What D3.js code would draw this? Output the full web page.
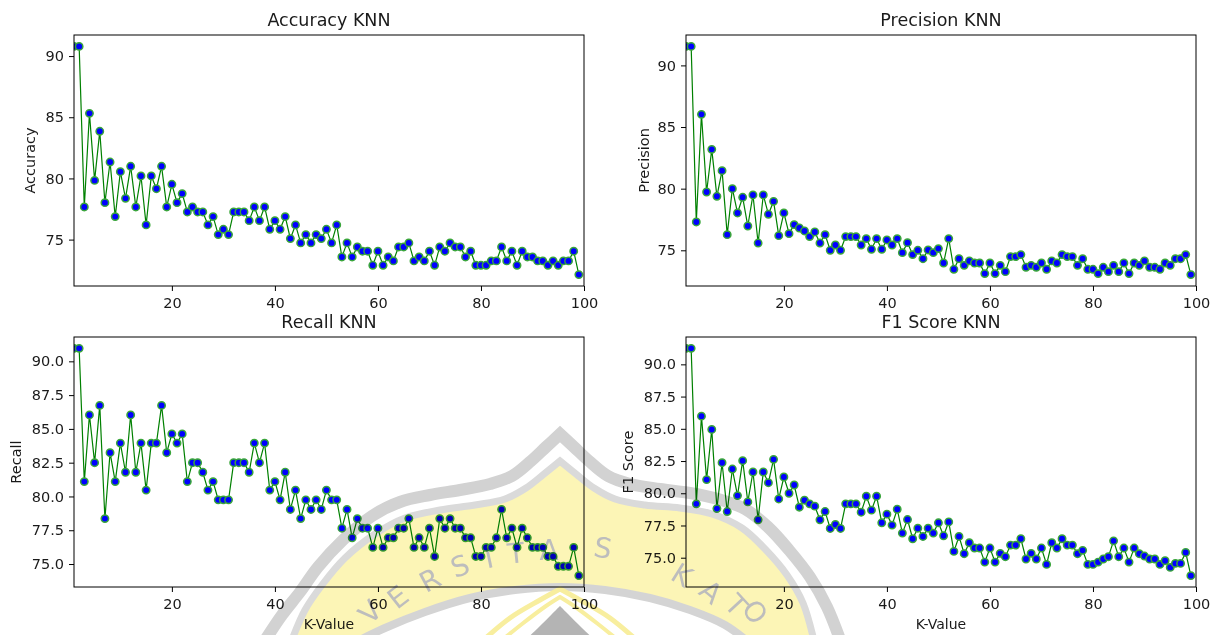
<!DOCTYPE html>
<html>
<head>
<meta charset="utf-8">
<script src="https://cdn.jsdelivr.net/npm/d3@7/dist/d3.min.js"></script>
<style>
  body { margin: 0; background: #fff; }
  svg text { font-family: "DejaVu Sans", sans-serif; }
</style>
</head>
<body>
<svg id="chart" width="1222" height="635"></svg>
<script>
// k values 1..99 on the x axis
const kValues = d3.range(1, 100);

const accuracy = [
  90.79, 90.79, 77.67, 85.32, 79.84, 83.85, 78.02, 81.34, 76.88, 80.55,
  78.37, 80.99, 77.67, 80.20, 76.20, 80.20, 79.16, 80.99, 77.67, 79.52,
  78.02, 78.76, 77.26, 77.67, 77.26, 77.26, 76.20, 76.88, 75.41, 75.84,
  75.41, 77.26, 77.26, 77.26, 76.55, 77.67, 76.55, 77.67, 75.84, 76.55,
  75.84, 76.88, 75.08, 76.20, 74.73, 75.41, 74.73, 75.41, 75.08, 75.84,
  74.73, 76.20, 73.58, 74.73, 73.58, 74.40, 74.05, 74.05, 72.90, 74.05,
  72.90, 73.58, 73.26, 74.40, 74.40, 74.73, 73.26, 73.58, 73.26, 74.05,
  72.90, 74.40, 74.05, 74.73, 74.40, 74.40, 73.58, 74.05, 72.90, 72.90,
  72.90, 73.26, 73.26, 74.40, 73.26, 74.05, 72.90, 74.05, 73.58, 73.58,
  73.26, 73.26, 72.90, 73.26, 72.90, 73.26, 73.26, 74.05, 72.14
];

const precision = [
  91.54, 91.54, 77.30, 86.03, 79.73, 83.19, 79.38, 81.46, 76.27, 80.00,
  78.03, 79.30, 76.97, 79.49, 75.59, 79.49, 77.92, 78.97, 76.19, 78.03,
  76.35, 77.08, 76.81, 76.57, 76.11, 76.49, 75.59, 76.27, 75.00, 75.43,
  75.00, 76.11, 76.11, 76.11, 75.43, 75.95, 75.08, 75.95, 75.08, 75.84,
  75.43, 75.95, 74.81, 75.62, 74.65, 75.00, 74.32, 75.03, 74.81, 75.14,
  73.97, 75.95, 73.46, 74.32, 73.78, 74.14, 73.97, 73.97, 73.11, 73.97,
  73.11, 73.78, 73.27, 74.49, 74.49, 74.65, 73.62, 73.78, 73.62, 73.97,
  73.46, 74.14, 73.97, 74.65, 74.49, 74.49, 73.78, 74.32, 73.46, 73.46,
  73.11, 73.62, 73.27, 73.78, 73.27, 73.97, 73.11, 73.97, 73.78, 74.14,
  73.62, 73.62, 73.46, 73.97, 73.78, 74.32, 74.32, 74.65, 73.03
];

const recall = [
  90.96, 90.96, 81.10, 86.03, 82.50, 86.74, 78.36, 83.24, 81.10, 83.95,
  81.79, 86.03, 81.79, 83.95, 80.47, 83.95, 83.95, 86.74, 83.24, 84.63,
  83.95, 84.63, 81.10, 82.50, 82.50, 81.79, 80.47, 81.10, 79.75, 79.75,
  79.75, 82.50, 82.50, 82.50, 81.79, 83.95, 82.50, 83.95, 80.47, 81.10,
  79.75, 81.79, 79.04, 80.47, 78.36, 79.75, 79.04, 79.75, 79.04, 80.47,
  79.75, 79.75, 77.65, 79.04, 76.94, 78.36, 77.65, 77.65, 76.23, 77.65,
  76.23, 76.94, 76.94, 77.65, 77.65, 78.36, 76.23, 76.94, 76.23, 77.65,
  75.56, 78.36, 77.65, 78.36, 77.65, 77.65, 76.94, 76.94, 75.56, 75.56,
  76.23, 76.23, 76.94, 79.04, 76.94, 77.65, 76.23, 77.65, 76.94, 76.23,
  76.23, 76.23, 75.56, 75.56, 74.83, 74.83, 74.83, 76.23, 74.14
];

const f1Score = [
  91.24, 91.24, 79.18, 85.98, 81.06, 84.95, 78.81, 82.37, 78.58, 81.88,
  79.82, 82.53, 79.33, 81.65, 77.94, 81.65, 80.82, 82.63, 79.56, 81.26,
  80.00, 80.64, 78.92, 79.46, 79.18, 79.00, 77.94, 78.58, 77.27, 77.58,
  77.27, 79.18, 79.18, 79.18, 78.53, 79.77, 78.69, 79.77, 77.71, 78.38,
  77.53, 78.76, 76.91, 77.96, 76.47, 77.29, 76.65, 77.29, 76.91, 77.71,
  76.70, 77.78, 75.49, 76.65, 75.31, 76.16, 75.75, 75.75, 74.66, 75.75,
  74.66, 75.34, 75.08, 75.98, 75.98, 76.47, 74.90, 75.34, 74.90, 75.75,
  74.48, 76.16, 75.75, 76.47, 75.98, 75.98, 75.31, 75.57, 74.48, 74.48,
  74.66, 74.90, 75.08, 76.31, 75.08, 75.75, 74.66, 75.75, 75.31, 75.13,
  74.90, 74.90, 74.48, 74.77, 74.25, 74.56, 74.56, 75.41, 73.61
];

const xTicks = [20, 40, 60, 80, 100];
const yTicksWhole = [75, 80, 85, 90];
const yTicksHalf = [75.0, 77.5, 80.0, 82.5, 85.0, 87.5, 90.0];

// background watermark (decoration only): left half up to the apex, right half from the apex
const wmOuterL = [[262,645],[282,615],[300,592],[318,567],[343,540],[372,516],[400,502],[430,495],[460,490],[490,484],[512,476],[531,461],[546,447],[560,434]];
const wmOuterR = [[560,434],[574,447],[589,461],[608,476],[630,484],[660,489],[690,493],[718,499],[745,509],[768,527],[789,550],[810,577],[827,607],[842,645]];
const wmInnerL = [[290,645],[305,610],[322,585],[345,558],[375,534],[405,518],[440,510],[475,505],[505,499],[526,488],[544,474],[560,461]];
const wmInnerR = [[560,461],[576,474],[594,488],[615,499],[645,505],[680,508],[712,514],[742,528],[766,550],[787,575],[803,603],[815,645]];
const wmBase = [[350,645],[385,628],[425,612],[470,598],[515,590],[560,587],[605,590],[650,598],[690,610],[725,625],[752,645]];
const wmChevA = [[478,645],[510,618],[540,600],[560,589],[580,600],[610,618],[642,645]];
const wmChevB = [[496,645],[522,624],[546,606],[560,597],[574,606],[598,624],[624,645]];
const wmChevCore = [[520,645],[538,628],[552,614],[560,606],[568,614],[582,628],[600,645]];
const wmLetters = ["V", "E", "R", "S", "I", "T", "A", "S", "K", "A", "T", "O"];
const wmLetterPos = [[370,612],[398,597],[430,580],[460,566],[489,558],[516,553],[549,550],[603,548],[682,575],[711,592],[736,605],[755,612]];
const wmLetterRot = [-45, -38, -28, -20, -12, -6, 0, 10, 32, 40, 47, 54];

const svg = d3.select("#chart");

const panels = [
  {title: "Accuracy KNN", ylabel: "Accuracy", values: accuracy, ticks: yTicksWhole, fmt: d3.format("d"),
   x0: 74, x1: 584, y0: 35, y1: 286, labelX: 30, kLabel: false},
  {title: "Precision KNN", ylabel: "Precision", values: precision, ticks: yTicksWhole, fmt: d3.format("d"),
   x0: 686, x1: 1196, y0: 35, y1: 286, labelX: 644, kLabel: false},
  {title: "Recall KNN", ylabel: "Recall", values: recall, ticks: yTicksHalf, fmt: d3.format(".1f"),
   x0: 74, x1: 584, y0: 337, y1: 587, labelX: 16, kLabel: true},
  {title: "F1 Score KNN", ylabel: "F1 Score", values: f1Score, ticks: yTicksHalf, fmt: d3.format(".1f"),
   x0: 686, x1: 1196, y0: 337, y1: 587, labelX: 628, kLabel: true}
];

panels.forEach(function(p, i) {
  var pts = kValues.map(function(k, j) { return {k: k, v: p.values[j]}; });
  var lo = d3.min(p.values), hi = d3.max(p.values), pad = (hi - lo) * 0.05;

  var x = d3.scaleLinear().domain([1, 100]).range([p.x0, p.x1]);
  var y = d3.scaleLinear().domain([lo - pad, hi + pad]).range([p.y1, p.y0]);

  var g = svg.append("g").attr("class", "panel");

  svg.append("clipPath").attr("id", "clip" + i)
    .append("rect")
    .attr("x", p.x0).attr("y", p.y0)
    .attr("width", p.x1 - p.x0).attr("height", p.y1 - p.y0);

  var plot = g.append("g").attr("clip-path", "url(#clip" + i + ")");

  plot.append("path")
    .datum(pts)
    .attr("fill", "none")
    .attr("stroke", "#008000")
    .attr("stroke-width", 1.2)
    .attr("d", d3.line().x(d => x(d.k)).y(d => y(d.v)));

  plot.selectAll("circle")
    .data(pts)
    .enter()
    .append("circle")
    .attr("cx", d => x(d.k))
    .attr("cy", d => y(d.v))
    .attr("r", 3.7)
    .attr("fill", "#0000ff")
    .attr("stroke", "#3aa63a")
    .attr("stroke-width", 1.5);

  // frame
  g.append("rect")
    .attr("x", p.x0).attr("y", p.y0)
    .attr("width", p.x1 - p.x0).attr("height", p.y1 - p.y0)
    .attr("fill", "none").attr("stroke", "#000").attr("stroke-width", 1);

  var xAxis = g.append("g")
    .attr("transform", "translate(0," + p.y1 + ")")
    .call(d3.axisBottom(x).tickValues(xTicks).tickSize(5).tickPadding(7).tickSizeOuter(0));
  var yAxis = g.append("g")
    .attr("transform", "translate(" + p.x0 + ",0)")
    .call(d3.axisLeft(y).tickValues(p.ticks).tickFormat(p.fmt).tickSize(5).tickPadding(5).tickSizeOuter(0));

  [xAxis, yAxis].forEach(function(a) {
    a.select(".domain").remove();
    a.attr("font-size", 14.5).attr("font-family", "DejaVu Sans, sans-serif");
    a.selectAll("line").attr("stroke", "#000");
    a.selectAll("text").attr("fill", "#1a1a1a");
  });

  g.append("text")
    .attr("x", (p.x0 + p.x1) / 2)
    .attr("y", p.y0 - 9)
    .attr("text-anchor", "middle")
    .attr("font-size", 17.5)
    .attr("fill", "#1a1a1a")
    .text(p.title);

  g.append("text")
    .attr("transform", "translate(" + p.labelX + "," + ((p.y0 + p.y1) / 2) + ") rotate(-90)")
    .attr("text-anchor", "middle")
    .attr("dy", "0.35em")
    .attr("font-size", 14.5)
    .attr("fill", "#1a1a1a")
    .text(p.ylabel);

  if (p.kLabel) {
    g.append("text")
      .attr("x", (p.x0 + p.x1) / 2)
      .attr("y", 629)
      .attr("text-anchor", "middle")
      .attr("font-size", 14)
      .attr("fill", "#1a1a1a")
      .text("K-Value");
  }
});

// faint watermark laid over the figure
var wm = svg.append("g").style("mix-blend-mode", "multiply").attr("pointer-events", "none");
var curve = d3.line().curve(d3.curveCatmullRom.alpha(0.5));
function pointed(left, right) {
  return curve(left) + curve(right).replace(/^M/, "L");
}

wm.append("path")
  .attr("d", pointed(wmInnerL, wmInnerR) + "Z")
  .attr("fill", "#fcf5b6");

wm.append("path")
  .attr("d", pointed(wmOuterL, wmOuterR))
  .attr("fill", "none")
  .attr("stroke", "#d2d2d2")
  .attr("stroke-width", 12)
  .attr("stroke-linejoin", "miter")
  .attr("stroke-miterlimit", 10);

wm.append("path")
  .attr("d", pointed(wmInnerL, wmInnerR))
  .attr("fill", "none")
  .attr("stroke", "#dadada")
  .attr("stroke-width", 7)
  .attr("stroke-linejoin", "miter")
  .attr("stroke-miterlimit", 10);

wm.selectAll("text.wm")
  .data(wmLetters)
  .enter()
  .append("text")
  .attr("class", "wm")
  .attr("transform", (d, j) => "translate(" + wmLetterPos[j][0] + "," + wmLetterPos[j][1] + ") rotate(" + wmLetterRot[j] + ")")
  .attr("text-anchor", "middle")
  .attr("dy", "0.35em")
  .attr("font-family", "Liberation Serif, serif")
  .attr("font-size", 28)
  .attr("fill", "#bdbdbd")
  .text(d => d);

wm.append("path")
  .attr("d", curve(wmBase) + "Z")
  .attr("fill", "#ffffff")
  .attr("stroke", "#d4d4d4")
  .attr("stroke-width", 8);

wm.append("path")
  .attr("d", pointed(wmChevA.slice(0, 4), wmChevA.slice(3)))
  .attr("fill", "none")
  .attr("stroke", "#f8ee9e")
  .attr("stroke-width", 5);

wm.append("path")
  .attr("d", pointed(wmChevB.slice(0, 4), wmChevB.slice(3)))
  .attr("fill", "none")
  .attr("stroke", "#f8ee9e")
  .attr("stroke-width", 4);

wm.append("path")
  .attr("d", pointed(wmChevCore.slice(0, 4), wmChevCore.slice(3)) + "Z")
  .attr("fill", "#b4b4b4");
</script>
</body>
</html>
